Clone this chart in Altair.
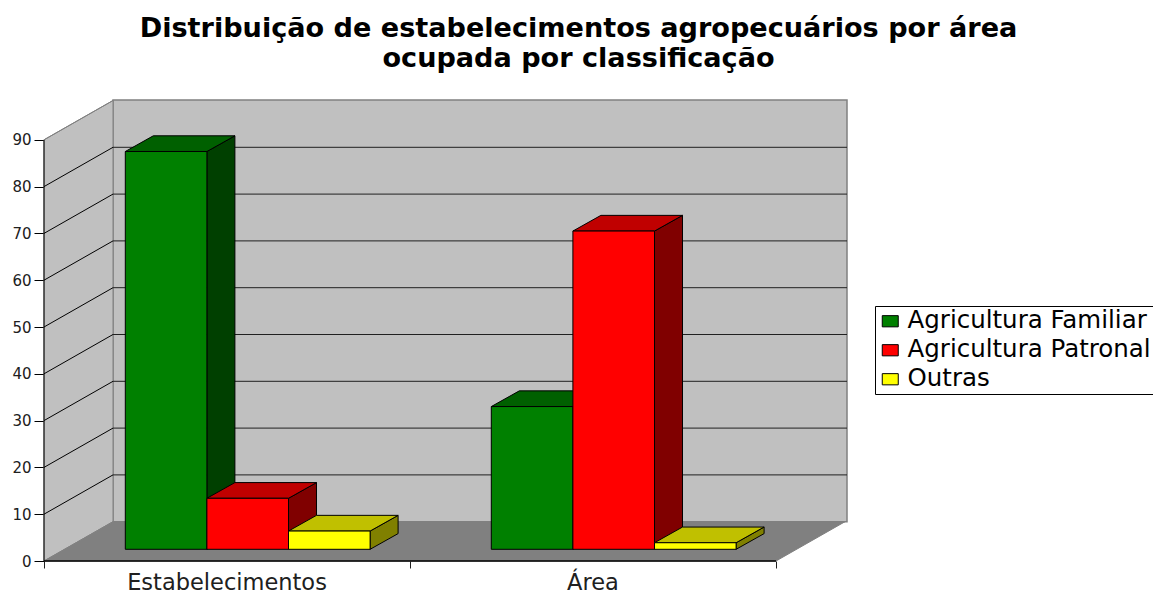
import altair as alt
import pandas as pd

TITLE = ["Distribuição de estabelecimentos agropecuários por área", "ocupada por classificação"]
CATEGORIES = ["Estabelecimentos", "Área"]
SERIES = ["Agricultura Familiar", "Agricultura Patronal", "Outras"]
VALUES = {
    "Agricultura Familiar": [85.0, 30.5],
    "Agricultura Patronal": [10.9, 68.0],
    "Outras": [3.9, 1.4],
}
FRONT = ["#008000", "#ff0000", "#ffff00"]
TOP = ["#006000", "#c00000", "#c0c000"]
SIDE = ["#004000", "#800000", "#808000"]
TICKS = list(range(0, 100, 10))

# geometry in data units
PX_X, PX_Y = 366.0, 4.68
W, H = 803, 461
XMAX, YMAX = W / PX_X, H / PX_Y
WALL_DX, WALL_DY = 69 / PX_X, 39.3 / PX_Y
BAR_DX, BAR_DY = 28 / PX_X, 15.7 / PX_Y
BAR_X0, BAR_W = 81.3 / PX_X, 81.6 / PX_X
BAR_BASE = 11.7 / PX_Y

FONT = "DejaVu Sans"

xs = alt.Scale(domain=[0, XMAX], nice=False, zero=False)
ys = alt.Scale(domain=[0, YMAX], nice=False, zero=False)
x_axis = alt.Axis(values=[0, 1, 2], domain=False, grid=False, title=None, labels=False,
                  tickColor="#202020", tickSize=7)
y_axis = alt.Axis(values=TICKS, domain=False, grid=False, title=None, tickColor="black", tickSize=10,
                  labelFont=FONT, labelFontSize=15, labelColor="#202020", labelPadding=3)


def X(f="x"):
    return alt.X(f"{f}:Q", scale=xs, axis=x_axis)


def Y(f="y"):
    return alt.Y(f"{f}:Q", scale=ys, axis=y_axis)


X2 = lambda f: alt.X2(f"{f}:Q")
Y2 = lambda f: alt.Y2(f"{f}:Q")

# walls and floor
side_wall = pd.DataFrame({"x": [0, WALL_DX], "y": [0, WALL_DY], "y2": [90, 90 + WALL_DY]})
floor = pd.DataFrame({"y": [0, WALL_DY], "x": [0, WALL_DX], "x2": [2, 2 + WALL_DX]})
back_wall = pd.DataFrame({"x": [WALL_DX], "x2": [XMAX], "y": [WALL_DY], "y2": [YMAX]})
grid = pd.DataFrame({"t": TICKS})
grid["x0"] = 0.0
grid["x1"] = WALL_DX
grid["x2"] = XMAX
grid["xe"] = 2.0
grid["ze"] = 0.0
grid["yf"] = grid["t"].astype(float)
grid["yb"] = grid["t"] + WALL_DY

layers = [
    alt.Chart(back_wall).mark_rect(fill="#c0c0c0", stroke="#808080", strokeWidth=1.5).encode(
        x=X(), x2=X2("x2"), y=Y(), y2=Y2("y2")),
    alt.Chart(side_wall).mark_area(fill="#c0c0c0", stroke="#808080", strokeWidth=1).encode(
        x=X(), y=Y(), y2=Y2("y2")),
    alt.Chart(floor).mark_area(orient="horizontal", fill="#808080", stroke="#808080", strokeWidth=1).encode(
        y=Y(), x=X(), x2=X2("x2")),
    alt.Chart(grid[(grid.t > 0) & (grid.t < 90)]).mark_rule(color="#202020", strokeWidth=1).encode(
        x=X("x1"), x2=X2("x2"), y=Y("yb")),
    alt.Chart(grid[(grid.t > 0) & (grid.t < 90)]).mark_rule(color="#000000", strokeWidth=1).encode(
        x=X("x0"), x2=X2("x1"), y=Y("yf"), y2=Y2("yb")),
]

# bars
front_rows = []
for si, s in enumerate(SERIES):
    side_rows, top_rows = [], []
    for ci, c in enumerate(CATEGORIES):
        v = VALUES[s][ci]
        x0 = ci + BAR_X0 + si * BAR_W
        x1 = x0 + BAR_W
        b = BAR_BASE
        t = BAR_BASE + v
        front_rows.append({"series": s, "x": x0, "x2": x1, "y": b, "y2": t})
        side_rows += [
            {"cat": c, "x": x1, "y": b, "y2": t},
            {"cat": c, "x": x1 + BAR_DX, "y": b + BAR_DY, "y2": t + BAR_DY},
        ]
        top_rows += [
            {"cat": c, "y": t, "x": x0, "x2": x1},
            {"cat": c, "y": t + BAR_DY, "x": x0 + BAR_DX, "x2": x1 + BAR_DX},
        ]
    layers.append(alt.Chart(pd.DataFrame(side_rows)).mark_area(
        fill=SIDE[si], stroke="black", strokeWidth=1).encode(
        x=X(), y=Y(), y2=Y2("y2"), detail="cat:N"))
    layers.append(alt.Chart(pd.DataFrame(top_rows)).mark_area(
        orient="horizontal", fill=TOP[si], stroke="black", strokeWidth=1).encode(
        y=Y(), x=X(), x2=X2("x2"), detail="cat:N"))

legend = alt.Legend(
    orient="none", legendX=831, legendY=206, title=None,
    fillColor="white", strokeColor="black", padding=3,
    symbolType="M-1,-0.7H1V0.7H-1Z", symbolSize=256,
    symbolStrokeColor="black", symbolStrokeWidth=1, symbolOpacity=1,
    labelFont=FONT, labelFontSize=24.5, labelColor="black", labelLimit=400,
    labelOffset=5, rowPadding=4, symbolOffset=0,
)
layers.append(alt.Chart(pd.DataFrame(front_rows)).mark_rect(stroke="black", strokeWidth=1, opacity=1).encode(
    x=X(), x2=X2("x2"), y=Y(), y2=Y2("y2"),
    color=alt.Color("series:N", sort=SERIES,
                    scale=alt.Scale(domain=SERIES, range=FRONT), legend=legend),
))

# axis lines
layers.append(alt.Chart(grid[grid.t == 90]).mark_rule(color="black", strokeWidth=1).encode(
    x=X("x0"), y=Y("yf"), y2=Y2("ze")))
layers.append(alt.Chart(grid[grid.t == 0]).mark_rule(color="black", strokeWidth=1.5).encode(
    x=X("x0"), x2=X2("xe"), y=Y("yf")))
layers.append(alt.Chart(grid[grid.t == 90]).mark_rule(color="#808080", strokeWidth=1).encode(
    x=X("x0"), x2=X2("x1"), y=Y("yf"), y2=Y2("yb")))

labels = pd.DataFrame({"c": CATEGORIES, "x": [0.5, 1.5], "y": [0.0, 0.0]})
layers.append(alt.Chart(labels).mark_text(
    font=FONT, fontSize=22.5, color="#202020", dy=22, baseline="middle", align="center").encode(
    x=X(), y=Y(), text="c:N"))

chart = alt.layer(*layers).properties(
    width=W, height=H,
    title=alt.TitleParams(text=TITLE, font=FONT, fontSize=27.1, fontWeight="bold", color="black",
                          anchor="middle", dx=133, offset=25, lineHeight=30),
    autosize=alt.AutoSizeParams(type="none"),
    padding={"left": 36, "top": 92, "right": 306, "bottom": 35},
    background="white",
).configure_view(stroke=None)

chart.save("out.html", embed_options={"renderer": "svg", "actions": False})
